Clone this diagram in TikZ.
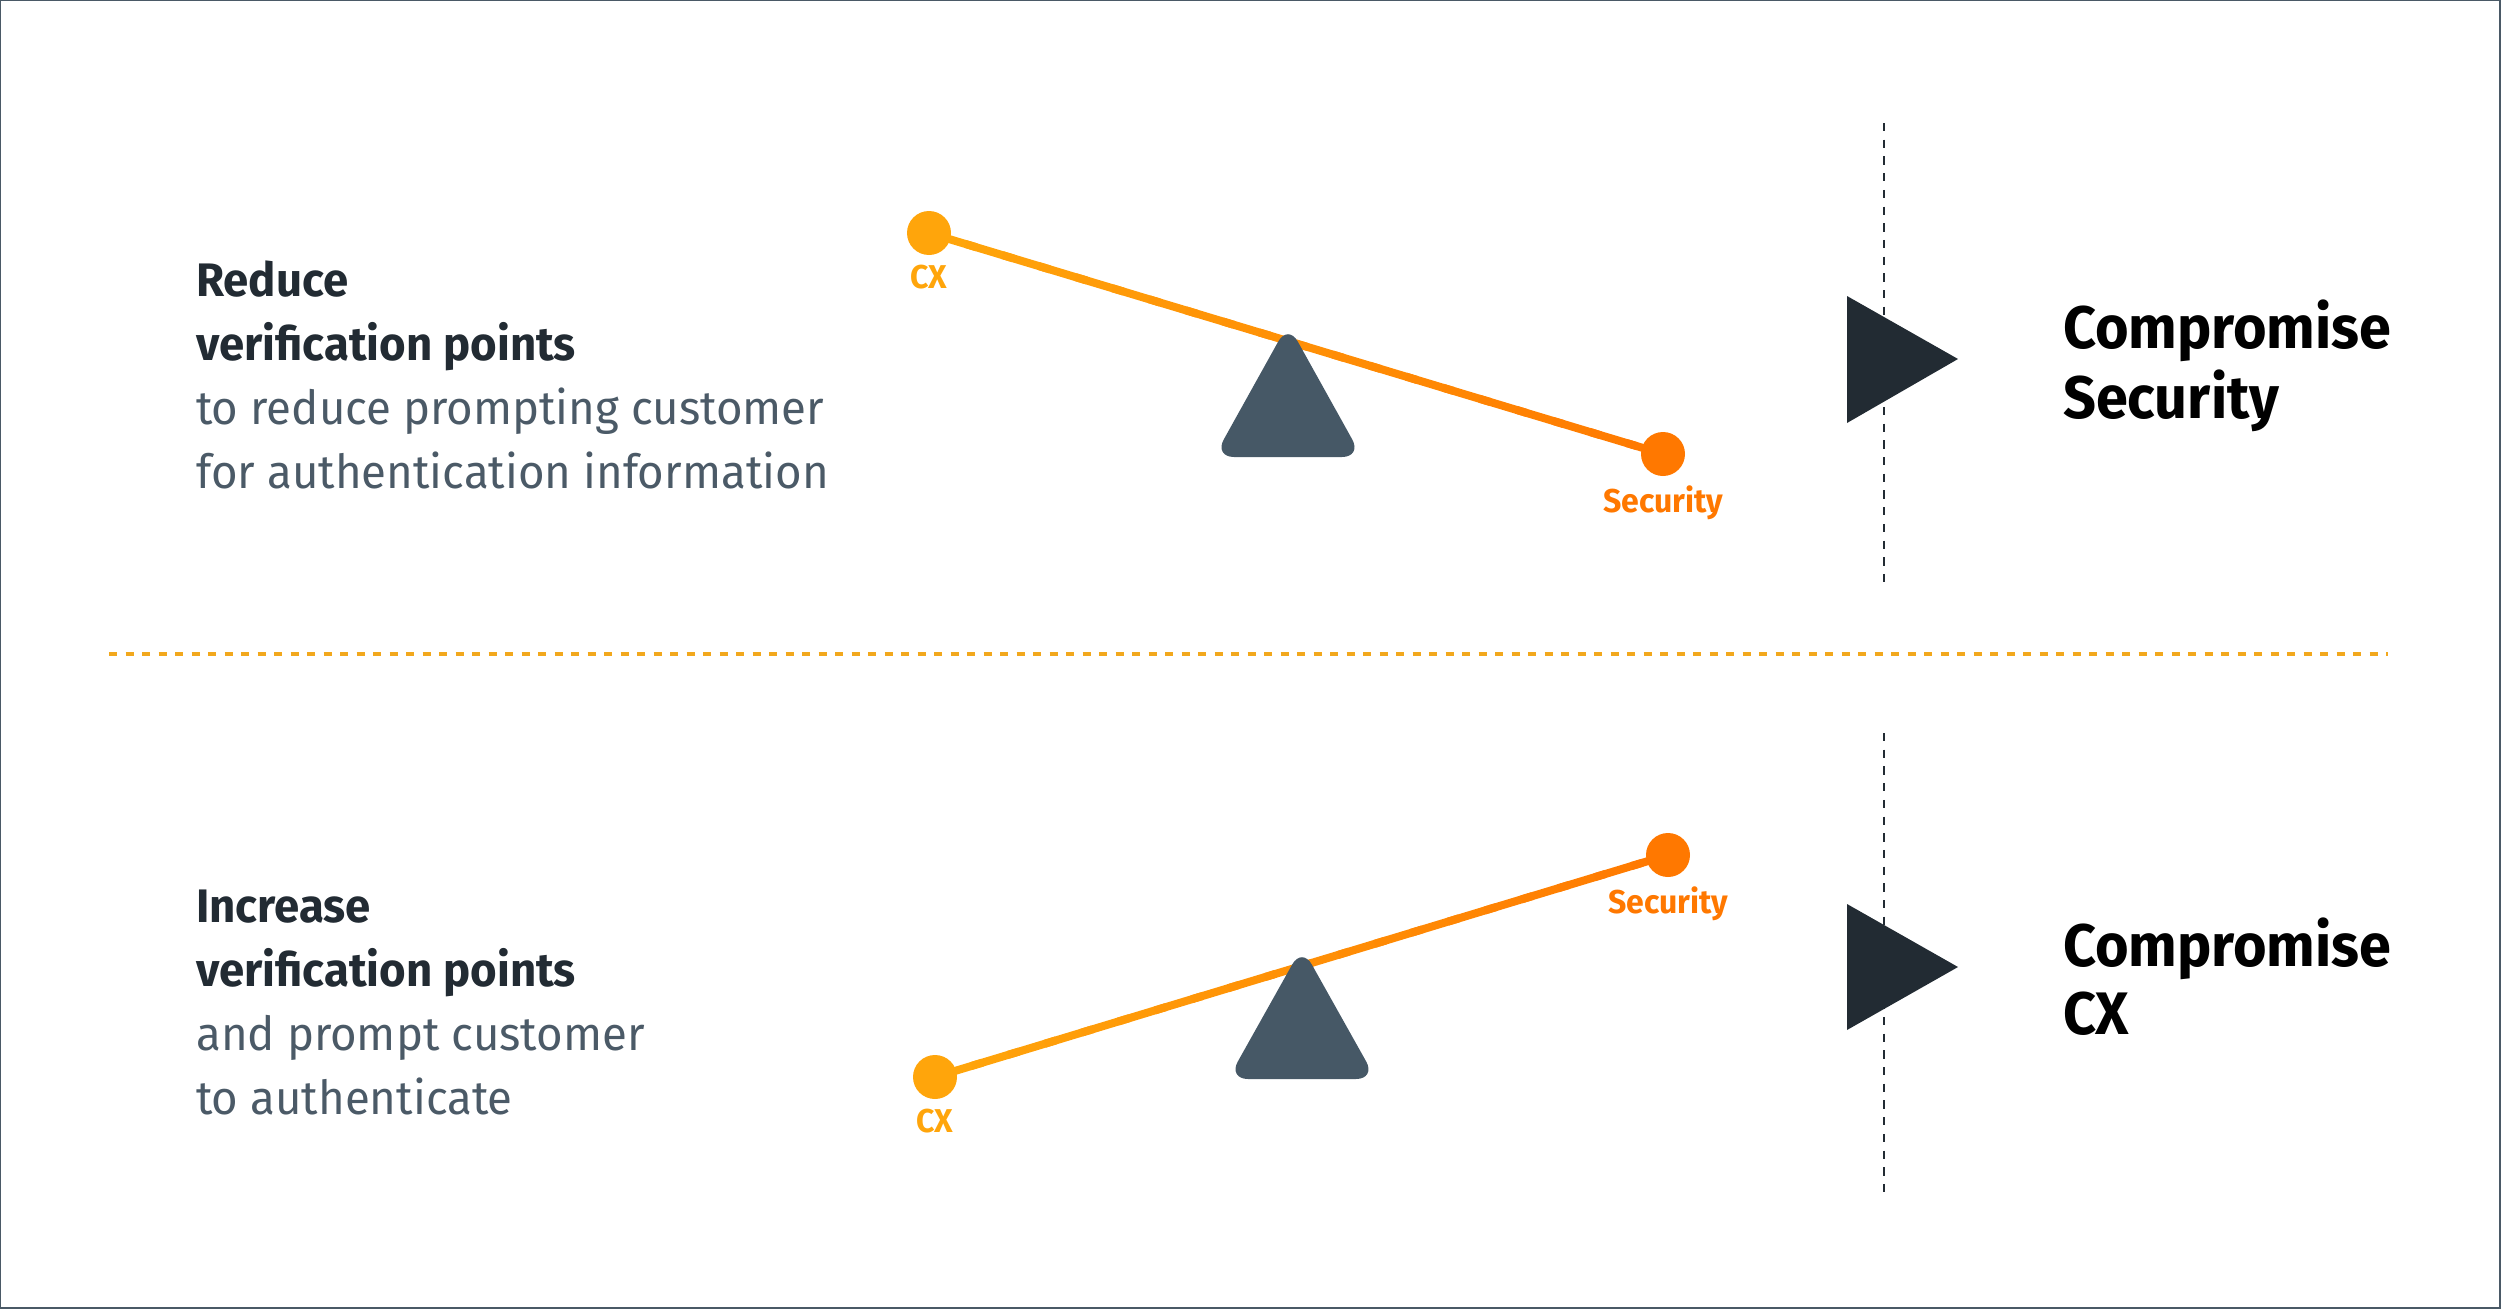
\documentclass[tikz,border=0pt]{standalone}
\usepackage{fontspec}
\setmainfont{Fira Sans}[FakeStretch=0.97]
\newfontfamily\verdictfont{Fira Sans}[FakeStretch=0.96]
\usetikzlibrary{positioning,calc}

\definecolor{titlecol}{HTML}{222B33}
\definecolor{subcol}{HTML}{4B5A67}
\definecolor{fulcrumcol}{HTML}{465866}
\definecolor{cxcol}{HTML}{FFA50B}
\definecolor{seccol}{HTML}{FF7800}
\definecolor{sepcol}{HTML}{F2A81D}
\definecolor{framecol}{HTML}{4A5966}

\tikzset{
  headline/.style={anchor=base west, inner sep=0pt, text=titlecol, font=\fontsize{47}{56}\selectfont\bfseries},
  subline/.style={anchor=base west, inner sep=0pt, text=subcol, font=\fontsize{47}{56}\selectfont},
  verdict/.style={anchor=base west, inner sep=0pt, text=black, font=\verdictfont\fontsize{60}{70}\selectfont\bfseries},
  enddot/.style={circle, inner sep=0pt, minimum size=44pt},
  dotlabel/.style={inner sep=0pt, font=\fontsize{33}{40}\selectfont\bfseries},
  beam/.style={line width=8pt},
  fulcrum/.style={fill=fulcrumcol, rounded corners=20pt},
  pointer/.style={fill=titlecol},
  divider/.style={draw=titlecol, line width=2.8pt, dash pattern=on 8.3pt off 8.4pt},
  separator/.style={draw=sepcol, line width=3.3pt, dash pattern=on 8.3pt off 8.2pt}
}

\begin{document}
\begin{tikzpicture}[x=1pt, y=-1pt]
  \useasboundingbox (0,0) rectangle (2501,1309);
  \draw[framecol, line width=2pt] (0,0) rectangle (2500,1308);

  % left texts
  \node[headline] (red1) at (196,296) {Reduce};
  \node[headline] (red2) at ([yshift=-64pt]red1.base west) {verification points};
  \node[subline] (red3) at ([yshift=-64pt]red2.base west) {to reduce prompting customer};
  \node[subline] (red4) at ([yshift=-64pt]red3.base west) {for authentication information};

  \node[headline] (inc1) at (196,922) {Increase};
  \node[headline] (inc2) at ([yshift=-64pt]inc1.base west) {verification points};
  \node[subline] (inc3) at ([yshift=-64pt]inc2.base west) {and prompt customer};
  \node[subline] (inc4) at ([yshift=-64pt]inc3.base west) {to authenticate};

  % separator
  \coordinate (sepL) at (109,654);
  \coordinate (sepR) at (2388,654);
  \draw[separator] (sepL) -- (sepR);

  % seesaws
  \coordinate (cxA) at (929,233);
  \coordinate (secA) at (1663,454);
  \coordinate (cxB) at (935,1077);
  \coordinate (secB) at (1668,855);
  \foreach \a/\b in {cxA/secA, cxB/secB}{
    \foreach \i in {0,...,19}{
      \pgfmathtruncatemacro\p{\i*5}
      \pgfmathsetmacro\s{\i/20}
      \pgfmathsetmacro\t{(\i+1.3)/20}
      \draw[beam, seccol!\p!cxcol] ($(\a)!\s!(\b)$) -- ($(\a)!\t!(\b)$);
    }
  }
  \node[enddot, fill=cxcol] (cxdotA) at (cxA) {};
  \node[enddot, fill=seccol] (secdotA) at (secA) {};
  \node[enddot, fill=cxcol] (cxdotB) at (cxB) {};
  \node[enddot, fill=seccol] (secdotB) at (secB) {};
  \node[dotlabel, text=cxcol, below=10pt of cxdotA] (cxlabA) {CX};
  \node[dotlabel, text=seccol, below=9pt of secdotA] (seclabA) {Security};
  \node[dotlabel, text=cxcol, below=10pt of cxdotB] (cxlabB) {CX};
  \node[dotlabel, text=seccol, below=9pt of secdotB] (seclabB) {Security};

  \fill[fulcrum] (1288,324) -- (1362,457) -- (1214,457) -- cycle;
  \fill[fulcrum] (1302,947) -- (1376,1079) -- (1228,1079) -- cycle;

  % outcome
  \coordinate (divA1) at (1884,123);
  \coordinate (divA2) at (1884,590);
  \coordinate (divB1) at (1884,733);
  \coordinate (divB2) at (1884,1199);
  \draw[divider] (divA1) -- (divA2);
  \draw[divider] (divB1) -- (divB2);
  \fill[pointer] (1847,296) -- (1958,359) -- (1847,423) -- cycle;
  \fill[pointer] (1847,904) -- (1958,967) -- (1847,1030) -- cycle;

  \node[verdict] (compA1) at (2063,348) {Compromise};
  \node[verdict] (compA2) at ([yshift=-70pt]compA1.base west) {Security};
  \node[verdict] (compB1) at (2063,966) {Compromise};
  \node[verdict] (compB2) at ([yshift=-68pt]compB1.base west) {CX};
\end{tikzpicture}
\end{document}
